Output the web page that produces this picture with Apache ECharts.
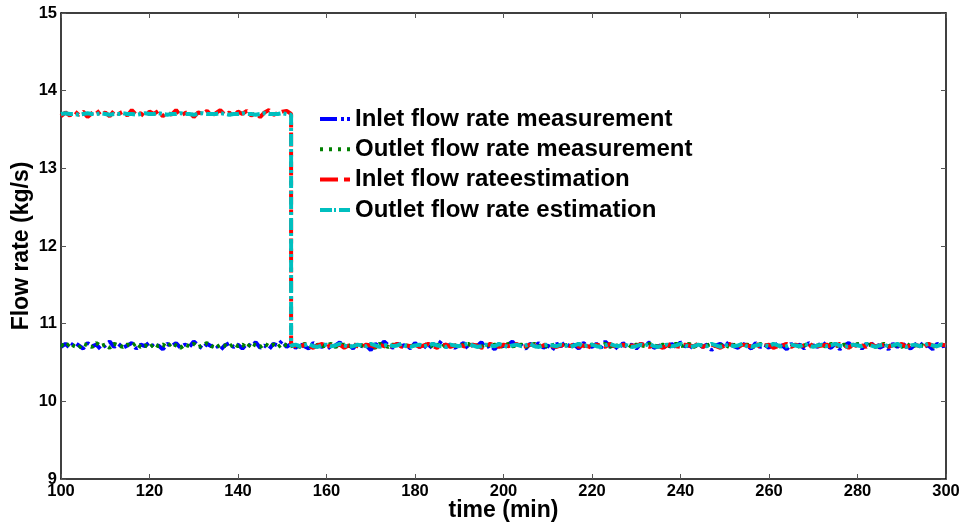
<!DOCTYPE html>
<html>
<head>
<meta charset="utf-8">
<script src="https://cdn.jsdelivr.net/npm/echarts@6/dist/echarts.min.js"></script>
<style>
  html, body { margin: 0; padding: 0; background: #fff; }
  #flowChart { width: 964px; height: 529px; }
</style>
</head>
<body>
<div id="flowChart"></div>
<script>
// time axis (min), one sample per minute
const timeStart = 100;
const stepTime = 152; // estimation jumps down here

const inletMeas = [
  10.70,10.74,10.69,10.76,10.72,10.68,10.75,10.71,10.73,10.67,10.72,10.77,10.70,10.74,10.69,10.72,10.75,10.68,10.73,10.71,
  10.76,10.70,10.72,10.67,10.74,10.71,10.75,10.69,10.73,10.70,10.77,10.72,10.68,10.74,10.71,10.73,10.66,10.72,10.75,10.70,
  10.73,10.68,10.74,10.71,10.76,10.69,10.72,10.67,10.74,10.72,10.78,10.70,10.74,10.69,10.73,10.71,10.68,10.75,10.72,10.70,
  10.74,10.67,10.72,10.76,10.70,10.73,10.68,10.75,10.71,10.72,10.66,10.74,10.70,10.77,10.72,10.69,10.74,10.71,10.73,10.68,
  10.75,10.70,10.72,10.67,10.74,10.71,10.78,10.70,10.73,10.69,10.72,10.75,10.68,10.73,10.71,10.76,10.69,10.72,10.67,10.74,
  10.71,10.73,10.77,10.70,10.72,10.68,10.74,10.71,10.75,10.69,10.72,10.66,10.74,10.71,10.76,10.70,10.73,10.68,10.75,10.72,
  10.70,10.74,10.69,10.77,10.71,10.72,10.67,10.75,10.70,10.73,10.68,10.74,10.72,10.76,10.69,10.71,10.73,10.67,10.74,10.70,
  10.76,10.71,10.72,10.68,10.75,10.70,10.73,10.66,10.72,10.74,10.70,10.77,10.71,10.69,10.74,10.72,10.68,10.75,10.70,10.73,
  10.69,10.76,10.71,10.72,10.67,10.74,10.70,10.73,10.68,10.75,10.72,10.70,10.77,10.71,10.69,10.74,10.67,10.72,10.75,10.70,
  10.73,10.68,10.74,10.71,10.76,10.69,10.72,10.67,10.74,10.70,10.75,10.71,10.68,10.73,10.76,10.70,10.72,10.67,10.74,10.71,
  10.72
];

const outletMeas = [
  10.73,10.70,10.75,10.71,10.69,10.74,10.72,10.70,10.75,10.71,10.73,10.69,10.74,10.72,10.70,10.73,10.71,10.75,10.70,10.72,
  10.69,10.74,10.71,10.73,10.70,10.75,10.72,10.69,10.73,10.71,10.74,10.70,10.72,10.75,10.71,10.69,10.73,10.72,10.70,10.74,
  10.71,10.73,10.69,10.75,10.72,10.70,10.74,10.71,10.73,10.70,10.74,10.72,10.71,10.73,10.70,10.74,10.72,10.69,10.73,10.71,
  10.72,10.74,10.70,10.72,10.73,10.71,10.74,10.70,10.72,10.73,10.71,10.69,10.74,10.72,10.70,10.73,10.71,10.74,10.72,10.70,
  10.73,10.71,10.74,10.70,10.72,10.73,10.69,10.74,10.71,10.72,10.70,10.73,10.74,10.71,10.72,10.70,10.74,10.71,10.73,10.72,
  10.70,10.74,10.71,10.72,10.73,10.70,10.72,10.74,10.71,10.73,10.70,10.72,10.74,10.71,10.72,10.73,10.70,10.74,10.71,10.72,
  10.73,10.71,10.72,10.74,10.70,10.73,10.71,10.72,10.74,10.70,10.73,10.72,10.71,10.74,10.72,10.70,10.73,10.71,10.72,10.74,
  10.71,10.72,10.74,10.70,10.73,10.71,10.72,10.74,10.71,10.72,10.73,10.70,10.72,10.74,10.71,10.73,10.72,10.70,10.74,10.71,
  10.72,10.73,10.70,10.74,10.72,10.71,10.73,10.70,10.72,10.74,10.71,10.72,10.73,10.70,10.74,10.72,10.71,10.73,10.72,10.70,
  10.74,10.71,10.72,10.73,10.70,10.72,10.74,10.71,10.73,10.72,10.70,10.74,10.71,10.72,10.73,10.71,10.74,10.70,10.72,10.73,
  10.72
];

// estimations: before the step (100..152) and after (152..300)
const inletEstHigh = [
  13.67,13.72,13.68,13.74,13.69,13.73,13.66,13.71,13.75,13.68,13.72,13.67,13.74,13.70,13.73,13.68,13.75,13.69,13.71,13.66,
  13.73,13.70,13.74,13.67,13.72,13.69,13.75,13.68,13.71,13.73,13.66,13.72,13.70,13.74,13.68,13.71,13.75,13.69,13.72,13.67,
  13.73,13.70,13.74,13.68,13.71,13.66,13.72,13.75,13.69,13.71,13.73,13.74,13.70
];
const outletEstHigh = [
  13.70,13.71,13.70,13.70,13.69,13.70,13.71,13.70,13.70,13.71,13.70,13.69,13.70,13.70,13.71,13.70,13.70,13.69,13.70,13.71,
  13.70,13.70,13.71,13.70,13.69,13.70,13.70,13.71,13.70,13.70,13.69,13.70,13.71,13.70,13.70,13.70,13.71,13.70,13.69,13.70,
  13.70,13.71,13.70,13.70,13.69,13.70,13.71,13.70,13.70,13.70,13.71,13.70,13.69
];
const inletEstLow = [
  10.74,10.71,10.70,10.73,10.71,10.69,10.72,10.74,10.70,10.72,10.71,10.73,10.69,10.72,10.74,10.71,10.70,10.73,10.72,10.70,
  10.73,10.71,10.69,10.72,10.74,10.70,10.72,10.71,10.73,10.70,10.72,10.74,10.71,10.69,10.72,10.73,10.70,10.72,10.74,10.71,
  10.70,10.73,10.72,10.69,10.71,10.74,10.72,10.70,10.73,10.71,10.72,10.74,10.70,10.71,10.73,10.72,10.69,10.72,10.74,10.71,
  10.70,10.72,10.73,10.71,10.74,10.70,10.72,10.71,10.69,10.73,10.72,10.70,10.74,10.71,10.72,10.73,10.70,10.72,10.71,10.74,
  10.72,10.70,10.73,10.71,10.69,10.72,10.74,10.71,10.70,10.73,10.72,10.71,10.74,10.70,10.72,10.73,10.71,10.69,10.72,10.74,
  10.71,10.70,10.73,10.72,10.71,10.74,10.70,10.72,10.73,10.69,10.71,10.72,10.74,10.70,10.73,10.71,10.72,10.70,10.74,10.71,
  10.72,10.73,10.70,10.71,10.74,10.72,10.69,10.73,10.71,10.72,10.70,10.74,10.71,10.72,10.73,10.70,10.72,10.71,10.74,10.70,
  10.72,10.73,10.71,10.70,10.74,10.72,10.71,10.73,10.72
];
const outletEstLow = [
  10.72,10.73,10.71,10.72,10.74,10.71,10.70,10.72,10.73,10.71,10.72,10.74,10.72,10.70,10.71,10.73,10.72,10.71,10.74,10.72,
  10.70,10.72,10.73,10.71,10.72,10.74,10.71,10.70,10.72,10.73,10.71,10.72,10.74,10.72,10.71,10.70,10.73,10.72,10.71,10.73,
  10.74,10.72,10.70,10.71,10.73,10.72,10.71,10.74,10.72,10.70,10.72,10.73,10.71,10.72,10.74,10.71,10.70,10.72,10.73,10.72,
  10.71,10.73,10.72,10.70,10.72,10.74,10.71,10.72,10.73,10.71,10.70,10.72,10.74,10.72,10.71,10.73,10.72,10.70,10.71,10.73,
  10.72,10.74,10.71,10.70,10.72,10.73,10.71,10.72,10.74,10.72,10.70,10.71,10.73,10.72,10.71,10.74,10.72,10.70,10.72,10.73,
  10.71,10.72,10.74,10.71,10.70,10.72,10.73,10.72,10.71,10.74,10.72,10.70,10.71,10.73,10.72,10.71,10.74,10.72,10.70,10.72,
  10.73,10.71,10.72,10.74,10.72,10.70,10.71,10.73,10.72,10.71,10.74,10.72,10.70,10.72,10.73,10.71,10.72,10.74,10.71,10.70,
  10.72,10.73,10.71,10.72,10.74,10.72,10.71,10.73,10.72
];

const seriesNames = [
  'Inlet flow rate measurement',
  'Outlet flow rate measurement',
  'Inlet flow rateestimation',
  'Outlet flow rate estimation'
];
const seriesColors = ['#0000ff', '#008000', '#ff0000', '#00bfbf'];

// legend swatches drawn as the matlab-style line pattern (30 x 4 box)
const legendIcons = [
  'path://M0,0H17V4H0Z M21,0H24V4H21Z M27,0H30V4H27Z',
  'path://M0,0H3V4H0Z M9,0H12V4H9Z M18,0H21V4H18Z M27,0H30V4H27Z',
  'path://M0,0H18V4H0Z M24,0H30V4H24Z',
  'path://M0,0H12V4H0Z M14,0H16V4H14Z M19,0H30V4H19Z'
];

const FONT = '"Liberation Sans", Arial, sans-serif';

const withTime = (vals, t0) => vals.map((v, i) => [t0 + i, v]);
const estData = (high, low) => withTime(high, timeStart).concat(withTime(low, stepTime));

const tickStyle = { show: true, inside: true, length: 5, lineStyle: { color: '#555', width: 1 } };
const axisLine = { show: true, onZero: false, lineStyle: { color: '#000', width: 1.5 } };
const labelStyle = { fontFamily: FONT, fontWeight: 'bold', fontSize: 16.5, color: '#000', margin: 4 };
const nameStyle = { fontFamily: FONT, fontWeight: 'bold', fontSize: 23, color: '#000' };

const option = {
  backgroundColor: '#fff',
  animation: false,
  grid: { left: 61, right: 18, top: 13, bottom: 50, containLabel: false, outerBoundsMode: 'none' },
  legend: {
    orient: 'vertical',
    left: 315,
    top: 102,
    itemWidth: 30,
    itemHeight: 4,
    itemGap: 6.3,
    textStyle: { fontFamily: FONT, fontWeight: 'bold', fontSize: 24, lineHeight: 24, color: '#000' },
    data: seriesNames.map((name, i) => ({
      name: name,
      icon: legendIcons[i],
      itemStyle: { color: seriesColors[i], borderWidth: 0 }
    }))
  },
  xAxis: [
    {
      type: 'value', min: 100, max: 300, interval: 20,
      name: 'time (min)', nameLocation: 'middle', nameGap: 20, nameMoveOverlap: false,
      nameTextStyle: nameStyle,
      axisLine: axisLine, axisTick: tickStyle, splitLine: { show: false },
      axisLabel: labelStyle
    },
    {
      type: 'value', position: 'top', min: 100, max: 300, interval: 20,
      axisLine: axisLine, axisTick: tickStyle, axisLabel: { show: false }, splitLine: { show: false }
    }
  ],
  yAxis: [
    {
      type: 'value', min: 9, max: 15, interval: 1,
      name: 'Flow rate (kg/s)', nameLocation: 'middle', nameGap: 28, nameMoveOverlap: false,
      nameTextStyle: nameStyle,
      axisLine: axisLine, axisTick: tickStyle, splitLine: { show: false },
      axisLabel: labelStyle
    },
    {
      type: 'value', position: 'right', min: 9, max: 15, interval: 1,
      axisLine: axisLine, axisTick: tickStyle, axisLabel: { show: false }, splitLine: { show: false }
    }
  ],
  series: [
    {
      name: seriesNames[0], type: 'line', symbol: 'none', z: 2,
      lineStyle: { color: seriesColors[0], width: 4, type: [10, 4, 3, 4] },
      itemStyle: { color: seriesColors[0] },
      data: withTime(inletMeas, timeStart)
    },
    {
      name: seriesNames[1], type: 'line', symbol: 'none', z: 3,
      lineStyle: { color: seriesColors[1], width: 4, type: [3, 4] },
      itemStyle: { color: seriesColors[1] },
      data: withTime(outletMeas, timeStart)
    },
    {
      name: seriesNames[2], type: 'line', symbol: 'none', z: 4,
      lineStyle: { color: seriesColors[2], width: 4, type: [14, 5, 5, 5] },
      itemStyle: { color: seriesColors[2] },
      data: estData(inletEstHigh, inletEstLow)
    },
    {
      name: seriesNames[3], type: 'line', symbol: 'none', z: 5,
      lineStyle: { color: seriesColors[3], width: 4, type: [12, 3, 3, 3] },
      itemStyle: { color: seriesColors[3] },
      data: estData(outletEstHigh, outletEstLow)
    }
  ]
};

const dom = document.getElementById('flowChart');
const myChart = echarts.init(dom);
myChart.setOption(option);
window.addEventListener('resize', () => {
  myChart.resize();
});
</script>
</body>
</html>
